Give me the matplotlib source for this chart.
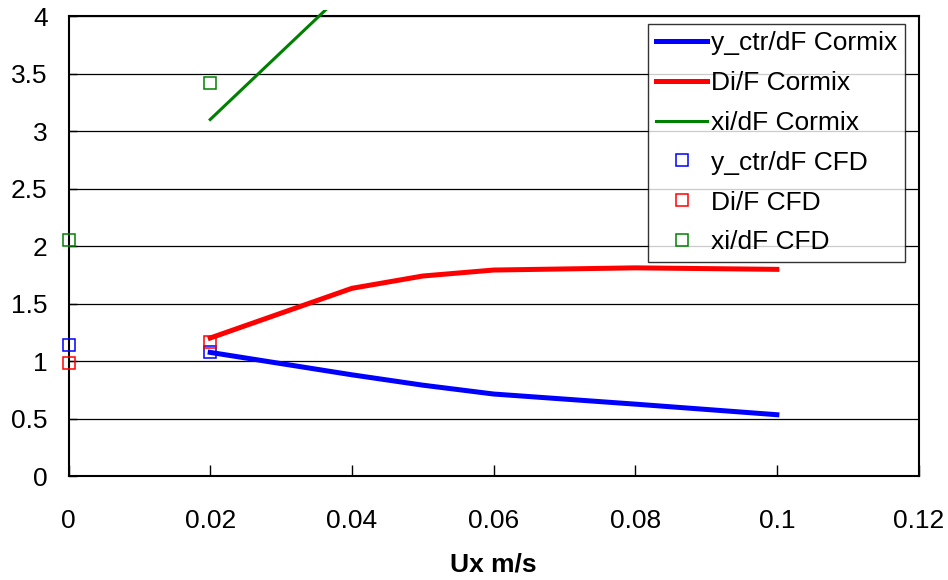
import matplotlib.pyplot as plt
from matplotlib.patches import Rectangle

plt.rcParams['font.family'] = ['Liberation Sans', 'DejaVu Sans']

# Cormix results vs crossflow velocity
ux_cormix = [0.02, 0.04, 0.05, 0.06, 0.08, 0.1]
yctr_cormix = [1.075, 0.88, 0.79, 0.713, 0.625, 0.533]
di_cormix = [1.20, 1.632, 1.739, 1.791, 1.81, 1.797]
ux_xi_cormix = [0.02, 0.04]
xi_cormix = [3.1, 4.27]

# CFD results
ux_cfd = [0.0, 0.02]
yctr_cfd = [1.139, 1.075]
di_cfd = [0.98, 1.168]
xi_cfd = [2.05, 3.42]

fig = plt.figure(figsize=(9.48, 5.80), dpi=100)
ax = fig.add_axes([0.0723, 0.1793, 0.8966, 0.7931])

ax.plot(ux_cormix, yctr_cormix, color='#0000ff', lw=3.6, label='y_ctr/dF Cormix', zorder=3)
ax.plot(ux_cormix, di_cormix, color='#ff0000', lw=3.6, label='Di/F Cormix', zorder=3)
xi_line, = ax.plot(ux_xi_cormix, xi_cormix, color='#008000', lw=2.2, label='xi/dF Cormix', zorder=3)
# let the green line run a little past the top of the plot area
xi_line.set_clip_path(Rectangle((0, 0), 1, 1.013, transform=ax.transAxes))

marker_style = dict(marker='s', linestyle='none', markersize=8, markerfacecolor='none',
                    markeredgewidth=1.1, clip_on=False, zorder=4)
ax.plot(ux_cfd, yctr_cfd, markeredgecolor='#0000ff', label='y_ctr/dF CFD', **marker_style)
ax.plot(ux_cfd, di_cfd, markeredgecolor='#ff0000', label='Di/F CFD', **marker_style)
ax.plot(ux_cfd, xi_cfd, markeredgecolor='#008000', label='xi/dF CFD', **marker_style)

ax.set_xlim(0, 0.12)
ax.set_ylim(0, 4)
ax.set_xticks([0, 0.02, 0.04, 0.06, 0.08, 0.1, 0.12])
ax.set_xticklabels(['0', '0.02', '0.04', '0.06', '0.08', '0.1', '0.12'])
ax.set_yticks([0, 0.5, 1, 1.5, 2, 2.5, 3, 3.5, 4])
ax.set_yticklabels(['0', '0.5', '1', '1.5', '2', '2.5', '3', '3.5', '4'])
ax.tick_params(axis='x', direction='in', length=8, width=1, pad=24, labelsize=19)
ax.tick_params(axis='y', direction='in', length=6, width=1, pad=15, labelsize=19)

ax.yaxis.grid(True, color='black', lw=0.9)
ax.set_axisbelow(True)
for sp in ax.spines.values():
    sp.set_color('black')
    sp.set_linewidth(1.5)

ax.set_xlabel('Ux m/s', fontsize=19, fontweight='bold', labelpad=14)

leg = ax.legend(loc='upper right', bbox_to_anchor=(0.984, 0.983), borderaxespad=0,
                fontsize=19, frameon=True, fancybox=False, handlelength=1.95,
                handletextpad=0.15, labelspacing=0.6, borderpad=0.28)
leg.get_frame().set_edgecolor('black')
leg.get_frame().set_linewidth(1.0)

fig.savefig('out.png', dpi=100, facecolor='white')
